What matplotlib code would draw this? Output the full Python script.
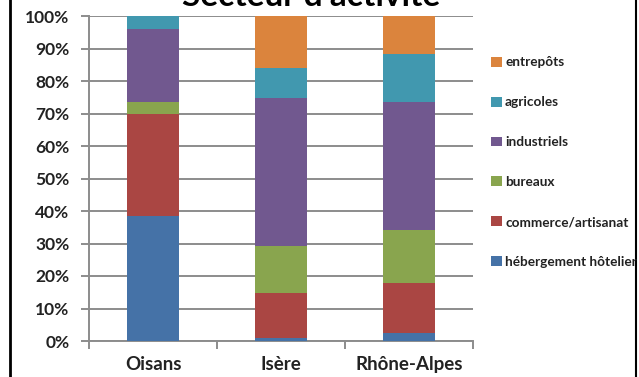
import matplotlib
matplotlib.use("Agg")
import matplotlib.pyplot as plt
from matplotlib.lines import Line2D
from matplotlib.patches import Patch
import numpy as np

plt.rcParams['font.family'] = ['Lato', 'DejaVu Sans']

categories = ["Oisans", "Isère", "Rhône-Alpes"]
series_names = ["hébergement hôtelier", "commerce/artisanat", "bureaux",
                "industriels", "agricoles", "entrepôts"]
hebergement = [38.5, 0.8, 2.4]
commerce = [31.3, 13.9, 15.4]
bureaux = [3.8, 14.6, 16.4]
industriels = [22.4, 45.6, 39.4]
agricoles = [3.9, 9.2, 14.6]
entrepots = [0.2, 15.9, 11.8]
series_values = [hebergement, commerce, bureaux, industriels, agricoles, entrepots]
colors = ["#4572A7", "#AA4643", "#89A54E", "#71588F", "#4198AF", "#DB843D"]
yticks = [0, 10, 20, 30, 40, 50, 60, 70, 80, 90, 100]
ytick_labels = [f"{v}%" for v in yticks]
title = "Secteur d'activité"

W, H = 639, 377
fig = plt.figure(figsize=(W / 100, H / 100), dpi=100)
fig.patch.set_facecolor("white")
ax = fig.add_axes([89 / W, 36 / H, (473 - 89) / W, (341 - 16) / H])

x = np.arange(len(categories))
bottom = np.zeros(len(categories))
handles = []
for name, vals, c in zip(series_names, series_values, colors):
    vals = np.array(vals, dtype=float)
    ax.bar(x, vals, width=0.41, bottom=bottom, color=c, zorder=3)
    bottom += vals
    handles.append(Patch(facecolor=c, label=name))

ax.set_xlim(-0.5, len(categories) - 0.5)
ax.set_ylim(0, 100)
ax.set_yticks(yticks)
ax.set_yticklabels(ytick_labels)
ax.yaxis.grid(True, color="#8c8c8c", linewidth=1.4, zorder=0)
ax.set_xticks(x)
ax.set_xticklabels(categories)
ax.set_xticks(np.arange(-0.5, len(categories)), minor=True)
ax.tick_params(axis="x", which="major", length=0, pad=11, labelsize=13.5,
               labelcolor="#222222")
ax.tick_params(axis="x", which="minor", length=6, width=1.4, color="#8c8c8c")
ax.tick_params(axis="y", length=6, width=1.4, color="#8c8c8c", pad=8,
               labelsize=12.5, labelcolor="#222222")
for lab in ax.get_xticklabels() + ax.get_yticklabels():
    lab.set_fontweight("bold")
for s in ["top", "right"]:
    ax.spines[s].set_visible(False)
for s in ["left", "bottom"]:
    ax.spines[s].set_color("#8c8c8c")
    ax.spines[s].set_linewidth(1.4)

leg = fig.legend(handles=handles[::-1], loc="upper left",
                 bbox_to_anchor=(486 / W, 1 - 51 / H), frameon=False,
                 handlelength=0.75, handleheight=0.75, handletextpad=0.25,
                 labelspacing=2.05, fontsize=9.8, borderaxespad=0)
for t in leg.get_texts():
    t.set_fontweight("bold")
    t.set_color("#222222")

fig.text(311 / W, 1 - 6.5 / H, title, ha="center", va="baseline",
         fontsize=24, fontweight="bold", color="black")

fig.add_artist(Line2D([9.5 / W, 9.5 / W], [0, 1], color="black", linewidth=2))
fig.add_artist(Line2D([635.5 / W, 635.5 / W], [0, 1], color="black", linewidth=1.5))

fig.savefig("out.png", dpi=100)
